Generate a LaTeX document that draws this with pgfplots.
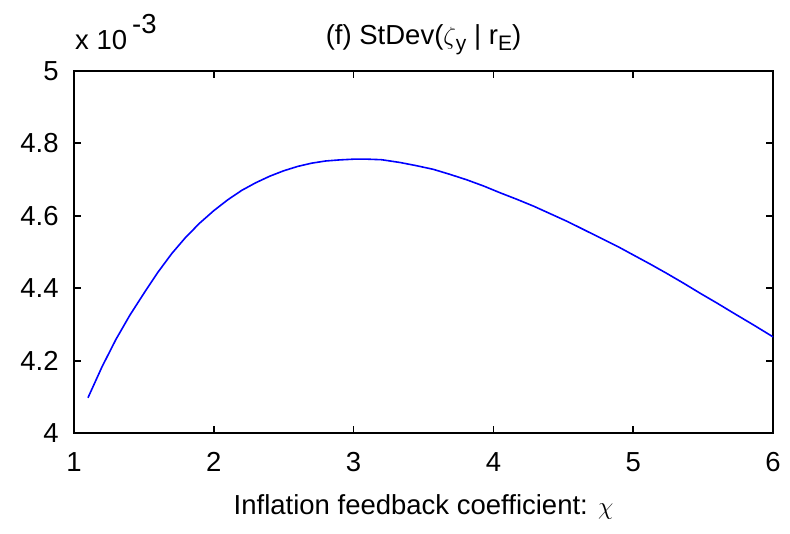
\documentclass[border=0pt]{standalone}
\usepackage{pgfplots}
\pgfplotsset{compat=1.18}
\usepackage{fontspec}
\setmainfont{Liberation Sans}
\begin{document}
\fontsize{27.5}{33}\selectfont
\begin{tikzpicture}[x=1pt,y=1pt]
\useasboundingbox (-74,-99.7) rectangle (716,433.3);
\begin{axis}[
  at={(0,0)}, anchor=south west,
  scale only axis, width=699pt, height=362.6pt,
  xmin=1, xmax=6, ymin=4, ymax=5,
  xtick={1,2,3,4,5,6},
  ytick={4,4.2,4.4,4.6,4.8,5},
  yticklabels={4,4.2,4.4,4.6,4.8,5},
  xticklabels={1,2,3,4,5,6},
  tick align=inside, tick pos=both,
  major tick length=7pt,
  every tick/.style={black, line width=1.6pt},
  axis line style={black, line width=2.2pt},
  ticklabel style={font=\fontsize{27.5}{33}\selectfont},
  yticklabel style={xshift=-6pt},
  xticklabel style={yshift=-10pt},
  xlabel={Inflation feedback coefficient: $\chi$},
  xlabel style={font=\fontsize{27.5}{33}\selectfont, yshift=-4pt},
  clip=false,
]
\addplot[blue, line width=1.6pt, line join=round] coordinates {
(1.10,4.098) (1.20,4.183) (1.30,4.259) (1.40,4.326) (1.50,4.386) (1.60,4.444)
(1.70,4.496) (1.80,4.541) (1.90,4.580) (2.00,4.614) (2.10,4.644) (2.20,4.670)
(2.30,4.691) (2.40,4.709) (2.50,4.724) (2.60,4.736) (2.70,4.745) (2.80,4.751)
(2.90,4.754) (3.00,4.756) (3.10,4.756) (3.20,4.7545) (3.33,4.747) (3.45,4.738)
(3.57,4.728) (3.69,4.714) (3.81,4.699) (3.93,4.682) (4.05,4.663) (4.17,4.645)
(4.29,4.626) (4.41,4.605) (4.53,4.584) (4.65,4.561) (4.77,4.538) (4.89,4.515)
(5.00,4.492) (5.12,4.467) (5.24,4.441) (5.36,4.414) (5.48,4.386) (5.60,4.359)
(5.72,4.331) (5.86,4.299) (6.00,4.266)
};
\end{axis}
\node[anchor=base west, inner sep=0pt] at (1,383.3) {x 10};
\node[anchor=base west, inner sep=0pt] at (58,400) {-3};
\node[anchor=base, inner sep=0pt] at (349.5,388.3) {(f) StDev($\zeta$\raisebox{-6pt}{\fontsize{21}{24}\selectfont y} | r\raisebox{-6pt}{\fontsize{21}{24}\selectfont E})};
\end{tikzpicture}
\end{document}
